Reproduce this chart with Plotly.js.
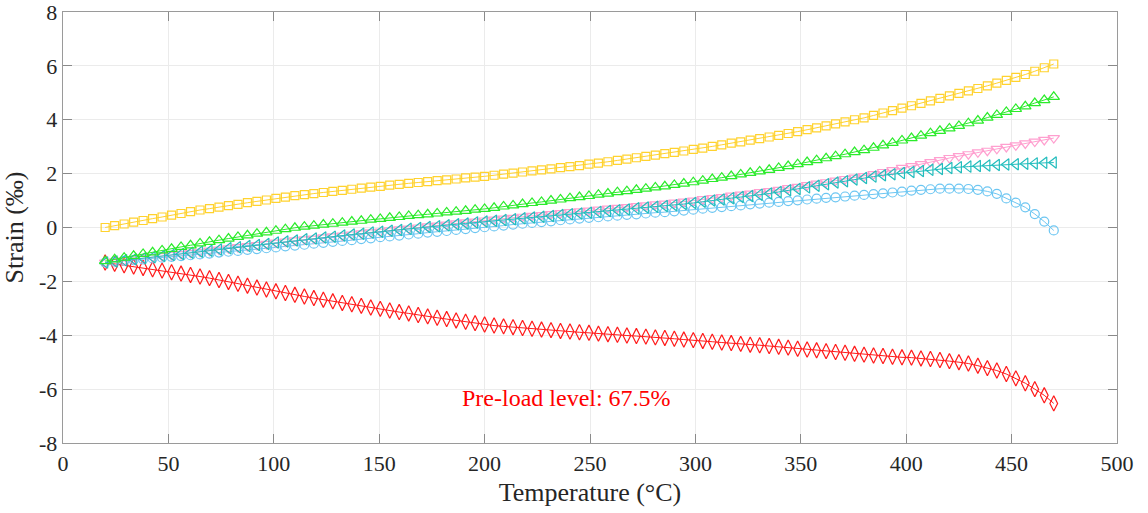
<!DOCTYPE html>
<html>
<head>
<meta charset="utf-8">
<script src="https://cdn.plot.ly/plotly-3.0.1.min.js"></script>
<style>
html,body{margin:0;padding:0;background:#fff;}
#chart{width:1148px;height:513px;}
</style>
</head>
<body>
<div id="chart"></div>
<script>
const temperature = [20,24.5,29,33.5,38,42.5,47,51.5,56,60.5,65,69.5,74,78.5,83,87.5,92,96.5,101,105.5,110,114.5,119,123.5,128,132.5,137,141.5,146,150.5,155,159.5,164,168.5,173,177.5,182,186.5,191,195.5,200,204.5,209,213.5,218,222.5,227,231.5,236,240.5,245,249.5,254,258.5,263,267.5,272,276.5,281,285.5,290,294.5,299,303.5,308,312.5,317,321.5,326,330.5,335,339.5,344,348.5,353,357.5,362,366.5,371,375.5,380,384.5,389,393.5,398,402.5,407,411.5,416,420.5,425,429.5,434,438.5,443,447.5,452,456.5,461,465.5,470];

const strainYellow = [0.00,0.07,0.13,0.20,0.26,0.33,0.39,0.46,0.52,0.59,0.65,0.70,0.76,0.81,0.86,0.92,0.97,1.02,1.08,1.13,1.18,1.22,1.26,1.30,1.34,1.38,1.42,1.46,1.50,1.53,1.57,1.60,1.64,1.67,1.70,1.74,1.77,1.80,1.84,1.87,1.90,1.94,1.98,2.02,2.06,2.10,2.14,2.18,2.22,2.26,2.30,2.35,2.39,2.44,2.49,2.54,2.59,2.64,2.69,2.74,2.79,2.84,2.90,2.95,3.01,3.07,3.13,3.18,3.24,3.30,3.36,3.42,3.49,3.56,3.63,3.70,3.77,3.85,3.92,4.00,4.07,4.16,4.25,4.34,4.43,4.52,4.61,4.70,4.79,4.89,4.98,5.07,5.16,5.26,5.36,5.46,5.57,5.68,5.80,5.93,6.07];

const strainGreen = [-1.25,-1.18,-1.12,-1.05,-0.98,-0.92,-0.85,-0.79,-0.72,-0.66,-0.59,-0.53,-0.47,-0.41,-0.35,-0.29,-0.23,-0.18,-0.12,-0.06,-0.01,0.03,0.07,0.11,0.14,0.18,0.22,0.25,0.29,0.32,0.36,0.39,0.43,0.46,0.49,0.52,0.56,0.59,0.62,0.66,0.69,0.73,0.78,0.82,0.87,0.91,0.95,1.00,1.04,1.09,1.13,1.17,1.22,1.26,1.31,1.35,1.40,1.44,1.49,1.53,1.58,1.63,1.68,1.74,1.80,1.85,1.91,1.97,2.03,2.08,2.14,2.21,2.28,2.35,2.43,2.50,2.57,2.65,2.72,2.80,2.87,2.96,3.05,3.14,3.23,3.32,3.41,3.50,3.59,3.68,3.77,3.87,3.97,4.08,4.18,4.29,4.40,4.50,4.62,4.73,4.85];

const strainPink = [-1.30,-1.26,-1.22,-1.18,-1.14,-1.10,-1.06,-1.02,-0.98,-0.94,-0.90,-0.86,-0.82,-0.77,-0.73,-0.69,-0.65,-0.61,-0.56,-0.52,-0.48,-0.44,-0.41,-0.37,-0.33,-0.30,-0.26,-0.22,-0.18,-0.15,-0.11,-0.07,-0.04,0.00,0.04,0.07,0.11,0.15,0.19,0.22,0.26,0.29,0.33,0.36,0.40,0.43,0.46,0.50,0.53,0.57,0.60,0.63,0.66,0.70,0.73,0.76,0.79,0.82,0.86,0.89,0.92,0.96,1.00,1.05,1.09,1.13,1.18,1.22,1.26,1.31,1.35,1.40,1.46,1.51,1.57,1.63,1.68,1.74,1.80,1.85,1.91,1.98,2.06,2.13,2.21,2.28,2.35,2.43,2.50,2.58,2.65,2.72,2.79,2.85,2.92,2.99,3.05,3.12,3.19,3.25,3.32];

const strainCyan = [-1.30,-1.26,-1.22,-1.18,-1.14,-1.10,-1.06,-1.02,-0.98,-0.94,-0.90,-0.86,-0.82,-0.77,-0.73,-0.69,-0.65,-0.61,-0.56,-0.52,-0.48,-0.44,-0.41,-0.37,-0.34,-0.30,-0.26,-0.23,-0.19,-0.16,-0.12,-0.09,-0.05,-0.02,0.02,0.05,0.08,0.12,0.15,0.19,0.22,0.25,0.28,0.31,0.34,0.37,0.40,0.43,0.46,0.49,0.52,0.55,0.58,0.61,0.64,0.67,0.71,0.74,0.77,0.80,0.83,0.87,0.91,0.96,1.00,1.04,1.09,1.13,1.17,1.22,1.26,1.32,1.38,1.43,1.49,1.55,1.61,1.67,1.72,1.78,1.84,1.89,1.94,1.98,2.02,2.06,2.10,2.14,2.17,2.21,2.24,2.26,2.28,2.30,2.32,2.34,2.35,2.37,2.38,2.40,2.41];

const strainBlue = [-1.30,-1.27,-1.24,-1.21,-1.18,-1.15,-1.12,-1.09,-1.06,-1.03,-1.00,-0.97,-0.93,-0.90,-0.87,-0.83,-0.80,-0.77,-0.74,-0.70,-0.67,-0.64,-0.60,-0.57,-0.53,-0.50,-0.47,-0.43,-0.40,-0.36,-0.33,-0.30,-0.26,-0.23,-0.19,-0.16,-0.13,-0.09,-0.06,-0.02,0.01,0.04,0.07,0.11,0.14,0.17,0.20,0.23,0.27,0.30,0.33,0.36,0.38,0.41,0.44,0.47,0.49,0.52,0.55,0.57,0.60,0.63,0.66,0.70,0.73,0.76,0.79,0.82,0.86,0.89,0.92,0.95,0.98,1.01,1.04,1.07,1.10,1.12,1.15,1.18,1.21,1.24,1.27,1.30,1.33,1.37,1.40,1.42,1.44,1.44,1.44,1.43,1.40,1.34,1.25,1.08,0.92,0.75,0.50,0.22,-0.11];

const strainRed = [-1.30,-1.35,-1.40,-1.45,-1.50,-1.55,-1.60,-1.66,-1.71,-1.76,-1.82,-1.88,-1.95,-2.02,-2.09,-2.16,-2.23,-2.30,-2.37,-2.43,-2.50,-2.56,-2.62,-2.68,-2.74,-2.80,-2.85,-2.91,-2.97,-3.02,-3.08,-3.14,-3.19,-3.25,-3.30,-3.35,-3.40,-3.45,-3.50,-3.55,-3.60,-3.64,-3.67,-3.70,-3.73,-3.76,-3.79,-3.81,-3.84,-3.86,-3.89,-3.91,-3.94,-3.96,-3.98,-4.01,-4.03,-4.05,-4.08,-4.10,-4.13,-4.16,-4.18,-4.21,-4.24,-4.27,-4.29,-4.32,-4.35,-4.37,-4.40,-4.43,-4.46,-4.50,-4.53,-4.56,-4.59,-4.62,-4.65,-4.69,-4.72,-4.75,-4.77,-4.80,-4.82,-4.83,-4.86,-4.88,-4.92,-4.96,-5.00,-5.05,-5.13,-5.22,-5.31,-5.44,-5.60,-5.78,-6.00,-6.23,-6.53];

const xTickVals = [0,50,100,150,200,250,300,350,400,450,500];
const xTickText = ['0','50','100','150','200','250','300','350','400','450','500'];
const yTickVals = [-8,-6,-4,-2,0,2,4,6,8];
const yTickText = ['-8','-6','-4','-2','0','2','4','6','8'];

const annotationText = 'Pre-load level: 67.5%';
const annotationX = 239;
const annotationY = -6.33;

const FONT = '"Liberation Serif", "Times New Roman", serif';

function series(y, color, symbol, size) {
  return {
    x: temperature, y: y, type: 'scatter', mode: 'lines+markers',
    line: {color: color, width: 1},
    marker: {symbol: symbol, size: size, color: color, line: {color: color, width: 1.2}},
    showlegend: false, hoverinfo: 'x+y'
  };
}

const traces = [
  series(strainYellow, '#FFD22E', 'square-open', 8),
  series(strainRed, '#FF1A1A', 'diamond-tall-open', 11),
  series(strainBlue, '#6CC6F2', 'circle-open', 9),
  series(strainPink, '#FF9FCF', 'triangle-down-open', 10),
  series(strainCyan, '#22BDBD', 'triangle-left-open', 10),
  series(strainGreen, '#2BEB2B', 'triangle-up-open', 10)
];

const axisCommon = {
  showline: true, linecolor: '#9a9a9a', linewidth: 1.3, mirror: 'ticks',
  ticks: 'inside', ticklen: 9, tickcolor: '#8a8a8a', tickwidth: 1,
  showgrid: true, gridcolor: '#ebebeb', gridwidth: 1, zeroline: false,
  tickmode: 'array', ticklabeloverflow: 'allow',
  tickfont: {family: FONT, size: 22, color: '#262626'}
};

const layout = {
  width: 1148, height: 513,
  margin: {l: 63, r: 31, t: 12, b: 70},
  paper_bgcolor: '#ffffff', plot_bgcolor: '#ffffff',
  xaxis: Object.assign({}, axisCommon, {
    range: [0, 500], tickvals: xTickVals, ticktext: xTickText,
    title: {text: 'Temperature (°C)', font: {family: FONT, size: 26, color: '#262626'}, standoff: 8}
  }),
  yaxis: Object.assign({}, axisCommon, {
    range: [-8, 8], tickvals: yTickVals, ticktext: yTickText,
    title: {text: 'Strain (‰)', font: {family: FONT, size: 26, color: '#262626'}, standoff: 8}
  }),
  annotations: [{
    x: annotationX, y: annotationY, xref: 'x', yref: 'y', text: annotationText,
    showarrow: false, font: {family: FONT, size: 24, color: '#FF0000'}
  }]
};

Plotly.newPlot('chart', traces, layout, {displayModeBar: false, staticPlot: true});
</script>
</body>
</html>
